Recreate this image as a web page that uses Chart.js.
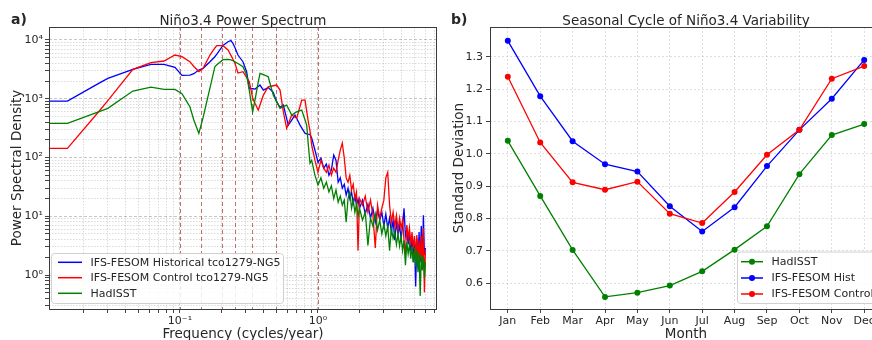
<!DOCTYPE html>
<html>
<head>
<meta charset="utf-8">
<script src="https://cdn.jsdelivr.net/npm/chart.js"></script>
<style>
  html, body { margin: 0; padding: 0; background: #fff; overflow: hidden; width: 872px; height: 340px; }
  #specChart { position: absolute; left: 0; top: 0; }
  #seasChart { position: absolute; left: 440px; top: 0; }
</style>
</head>
<body>
<canvas id="specChart" width="440" height="340"></canvas>
<canvas id="seasChart" width="460" height="340"></canvas>
<script>
// ---- panel a) power spectrum ----
const freq = [0.0114, 0.0153, 0.0254, 0.0300, 0.0456, 0.0616, 0.0766, 0.0920, 0.1034, 0.118, 0.126, 0.137, 0.147, 0.165, 0.179, 0.185, 0.205, 0.223, 0.234, 0.242, 0.250, 0.263, 0.286, 0.304, 0.318, 0.336, 0.350, 0.369, 0.380, 0.402, 0.436, 0.474, 0.502, 0.531, 0.561, 0.593, 0.609, 0.645, 0.681, 0.701, 0.741, 0.762, 0.806, 0.828, 0.851, 0.875,
  0.90, 0.95, 1.00, 1.05, 1.10, 1.15, 1.20, 1.25, 1.30, 1.35, 1.40, 1.45, 1.50, 1.55, 1.60, 1.65, 1.70, 1.75, 1.80, 1.85, 1.90, 1.95, 2.00,
  2.1, 2.2, 2.3, 2.4, 2.5, 2.6, 2.7, 2.8, 2.9, 3.0, 3.1, 3.2, 3.3, 3.4, 3.5, 3.6, 3.7, 3.8, 3.9, 4.0, 4.1, 4.2, 4.3, 4.4, 4.5, 4.6, 4.7, 4.8, 4.9, 5.0, 5.1, 5.2, 5.3, 5.4, 5.5, 5.6, 5.7, 5.8, 5.9, 6.0];

const psdHist = [913, 913, 1787, 2226, 3168, 3855, 3855, 3427, 2494, 2533, 2666, 3083, 3295, 4270, 5194, 5773, 8091, 9354, 9804, 8783, 7421, 5550, 4270, 2884, 1504, 1480, 1463, 1620, 1711, 1407, 1551, 1290, 885, 716, 781, 458, 356, 434, 528, 462, 356, 319, 257, 253, 249, 246,
  214, 134, 83, 98, 66, 77, 50, 61, 110, 90, 38, 45, 30, 35, 23, 30, 20, 26, 16.7, 22, 15.5, 19.6, 13.7,
  18.8, 10.9, 16.1, 9.3, 13.7, 7.9, 12.7, 8.6, 11.7, 6.8, 10.9, 6.3, 9.3, 5.4, 8.6, 3.9, 7.9, 5.0, 6.8, 4.2, 6.8, 13.7, 4.6, 5.8, 3.3, 5.4, 2.6, 4.6, 1.65, 3.9, 0.64, 4.2, 1.9, 5.4, 1.65, 6.8, 1.21, 10.4, 2.2, 2.9];

const psdCtrl = [143, 143, 577, 928, 3168, 4105, 4387, 5550, 5194, 4270, 3536, 2906, 3295, 5550, 7306, 7996, 7996, 6753, 5464, 4691, 4009, 2741, 2884, 2306, 1948, 1040, 832, 642, 781, 1156, 1601, 1665, 1711, 1407, 600, 313, 371, 528, 484, 464, 745, 950, 950, 617, 406, 283,
  163, 90, 56, 90, 66, 56, 74, 50, 66, 56, 90, 134, 176, 98, 45, 38, 50, 28, 35, 20, 26, 2.6, 20,
  15.5, 22, 11.7, 18.8, 10.4, 2.9, 15.5, 9.3, 13.7, 18.8, 45, 56, 15.5, 7.9, 11.7, 6.8, 10.4, 5.8, 9.3, 6.3, 8.6, 3.9, 2.2, 7.1, 4.2, 6.3, 3.2, 5.4, 2.9, 4.6, 2.2, 4.8, 1.65, 3.9, 1.9, 4.6, 1.31, 6.3, 0.51, 2.6];

const psdHad = [381, 381, 591, 686, 1352, 1582, 1446, 1446, 1221, 730, 434, 257, 476, 1527, 3509, 3795, 4618, 4691, 4598, 4439, 4270, 3977, 3509, 2533, 1373, 600, 965, 1925, 2709, 2564, 2370, 1156, 885, 686, 733, 781, 689, 528, 575, 600, 627, 642, 434, 356, 163, 80,
  90, 50, 34, 45, 30, 38, 26, 33, 20, 28, 17.4, 22, 15.5, 18.8, 7.9, 20, 26, 13.7, 18.8, 11.7, 16.1, 10.0, 13.7,
  8.6, 11.7, 3.2, 9.3, 6.8, 10.9, 5.8, 8.6, 5.0, 7.3, 4.6, 6.8, 2.6, 6.3, 4.2, 5.4, 3.3, 5.0, 3.1, 4.6, 2.6, 3.9, 1.47, 3.6, 2.3, 3.3, 1.9, 3.1, 1.65, 2.9, 1.41, 2.6, 1.12, 2.4, 0.44, 2.2, 1.21, 2.1, 0.88, 1.65];

// dashed markers at these periods (years)
const periodMarks = [10, 7, 5, 4, 3, 2, 1];

// ---- panel b) seasonal cycle ----
const months = ['Jan', 'Feb', 'Mar', 'Apr', 'May', 'Jun', 'Jul', 'Aug', 'Sep', 'Oct', 'Nov', 'Dec'];
const sdHad  = [1.040, 0.870, 0.703, 0.558, 0.571, 0.593, 0.637, 0.704, 0.776, 0.937, 1.058, 1.092];
const sdHist = [1.349, 1.178, 1.039, 0.968, 0.945, 0.838, 0.760, 0.835, 0.962, 1.074, 1.170, 1.290];
const sdCtrl = [1.238, 1.035, 0.912, 0.889, 0.914, 0.815, 0.786, 0.882, 0.997, 1.074, 1.232, 1.271];
const sdTicks = [0.6, 0.7, 0.8, 0.9, 1.0, 1.1, 1.2, 1.3];

const FONT = '"DejaVu Sans", sans-serif';
const TEXT = '#262626';
Chart.defaults.font.family = FONT;
Chart.defaults.color = TEXT;

const SUP = { '-': '⁻', '0': '⁰', '1': '¹', '2': '²', '3': '³', '4': '⁴', '5': '⁵', '6': '⁶', '7': '⁷', '8': '⁸', '9': '⁹' };
function sciLabel(v) {
  const e = Math.round(Math.log10(v));
  return '10' + String(e).split('').map(c => SUP[c]).join('');
}

// major (1x) and minor (2..9x) ticks of a log axis
function logTicks(lo, hi) {
  const out = [];
  for (let e = Math.floor(Math.log10(lo)); e <= Math.ceil(Math.log10(hi)); e++) {
    for (let m = 1; m <= 9; m++) {
      const v = m * Math.pow(10, e);
      if (v >= lo && v <= hi) out.push({ value: v, major: m === 1 });
    }
  }
  return out;
}

const periodLines = {
  id: 'periodLines',
  beforeDatasetsDraw(chart) {
    const { ctx, chartArea: a, scales: { x } } = chart;
    ctx.save();
    ctx.strokeStyle = 'rgba(180, 60, 60, 0.75)';
    ctx.lineWidth = 1;
    ctx.setLineDash([4, 3]);
    periodMarks.forEach(p => {
      const px = Math.round(x.getPixelForValue(1 / p)) + 0.5;
      ctx.beginPath();
      ctx.moveTo(px, a.top);
      ctx.lineTo(px, a.bottom);
      ctx.stroke();
    });
    ctx.restore();
  }
};

// frame, titles, axis labels and the in-axes legend
const panelDecor = {
  id: 'panelDecor',
  afterDraw(chart, args, opts) {
    const { ctx, chartArea: a } = chart;
    const cx = (a.left + a.right) / 2;
    ctx.save();
    ctx.strokeStyle = '#3a3a3a';
    ctx.lineWidth = 1;
    ctx.strokeRect(Math.round(a.left) + 0.5, Math.round(a.top) + 0.5, Math.round(a.right - a.left) - 1, Math.round(a.bottom - a.top));

    ctx.fillStyle = TEXT;
    ctx.textBaseline = 'alphabetic';
    ctx.font = 'bold 14px ' + FONT;
    ctx.textAlign = 'left';
    ctx.fillText(opts.letter, 11, 24);

    ctx.font = '13.5px ' + FONT;
    ctx.textAlign = 'center';
    ctx.fillText(opts.title, cx, 24.5);
    ctx.fillText(opts.xTitle, cx, 338);
    ctx.save();
    ctx.translate(opts.yTitleX, (a.top + a.bottom) / 2);
    ctx.rotate(-Math.PI / 2);
    ctx.fillText(opts.yTitle, 0, 0);
    ctx.restore();

    const lg = opts.legend;
    ctx.fillStyle = 'rgba(255, 255, 255, 0.85)';
    ctx.strokeStyle = '#d0d0d0';
    ctx.beginPath();
    ctx.roundRect(lg.box[0] + 0.5, lg.box[1] + 0.5, lg.box[2], lg.box[3], 3);
    ctx.fill();
    ctx.stroke();
    ctx.font = '11px ' + FONT;
    ctx.textAlign = 'left';
    ctx.textBaseline = 'middle';
    chart.data.datasets.forEach((ds, i) => {
      const y = lg.rows[i];
      ctx.strokeStyle = ds.borderColor;
      ctx.lineWidth = 1.5;
      ctx.beginPath();
      ctx.moveTo(lg.x0, y);
      ctx.lineTo(lg.x1, y);
      ctx.stroke();
      if (lg.marker) {
        ctx.fillStyle = ds.borderColor;
        ctx.beginPath();
        ctx.arc((lg.x0 + lg.x1) / 2, y, 3, 0, Math.PI * 2);
        ctx.fill();
      }
      ctx.fillStyle = TEXT;
      ctx.fillText(ds.label, lg.tx, y + 0.5);
    });
    ctx.restore();
  }
};

const gridColor = c => (c.tick && c.tick.major) ? 'rgba(0,0,0,0.22)' : 'rgba(0,0,0,0.14)';
const gridDash = c => (c.tick && c.tick.major) ? [3, 2] : [1.5, 1.5];

new Chart(document.getElementById('specChart'), {
  type: 'line',
  data: {
    datasets: [
      { label: 'IFS-FESOM Historical tco1279-NG5', data: freq.map((f, i) => ({ x: f, y: psdHist[i] })), borderColor: 'blue', order: 2 },
      { label: 'IFS-FESOM Control tco1279-NG5', data: freq.map((f, i) => ({ x: f, y: psdCtrl[i] })), borderColor: 'red', order: 1 },
      { label: 'HadISST', data: freq.map((f, i) => ({ x: f, y: psdHad[i] })), borderColor: 'green', order: 0 }
    ]
  },
  options: {
    responsive: false,
    animation: false,
    devicePixelRatio: 1,
    layout: { padding: { top: 27, right: 3, left: 0, bottom: 0 } },
    elements: { point: { radius: 0 }, line: { borderWidth: 1.3, tension: 0 } },
    plugins: {
      legend: { display: false },
      tooltip: { enabled: false },
      panelDecor: {
        letter: 'a)',
        title: 'Niño3.4 Power Spectrum',
        xTitle: 'Frequency (cycles/year)',
        yTitle: 'Power Spectral Density',
        yTitleX: 21,
        legend: { box: [51, 253, 232, 50], rows: [262.3, 277.7, 293.3], x0: 58, x1: 82, tx: 90.5, marker: false }
      }
    },
    scales: {
      x: {
        type: 'logarithmic',
        min: 0.01125,
        max: 7.28,
        afterBuildTicks: s => { s.ticks = logTicks(s.min, s.max); },
        afterFit: s => { s.height = 31; },
        ticks: { autoSkip: false, maxRotation: 0, padding: 2, font: { size: 11 }, callback: (v, i, t) => t[i].major ? sciLabel(v) : '' },
        grid: { color: gridColor, tickColor: '#444', tickLength: 4 },
        border: { display: false, dash: gridDash }
      },
      y: {
        type: 'logarithmic',
        min: 0.264,
        max: 16640,
        afterBuildTicks: s => { s.ticks = logTicks(s.min, s.max); },
        afterFit: s => { s.width = 49; },
        ticks: { autoSkip: false, padding: 2, font: { size: 11 }, callback: (v, i, t) => t[i].major ? sciLabel(v) : '' },
        grid: { color: gridColor, tickColor: '#444', tickLength: 4 },
        border: { display: false, dash: gridDash }
      }
    }
  },
  plugins: [periodLines, panelDecor]
});

new Chart(document.getElementById('seasChart'), {
  type: 'line',
  data: {
    datasets: [
      { label: 'HadISST', data: sdHad.map((v, i) => ({ x: i, y: v })), borderColor: 'green', backgroundColor: 'green', order: 2 },
      { label: 'IFS-FESOM Hist', data: sdHist.map((v, i) => ({ x: i, y: v })), borderColor: 'blue', backgroundColor: 'blue', order: 1 },
      { label: 'IFS-FESOM Control', data: sdCtrl.map((v, i) => ({ x: i, y: v })), borderColor: 'red', backgroundColor: 'red', order: 0 }
    ]
  },
  options: {
    responsive: false,
    animation: false,
    devicePixelRatio: 1,
    layout: { padding: { top: 27, right: 18, left: 0, bottom: 0 } },
    elements: { point: { radius: 3, borderWidth: 0 }, line: { borderWidth: 1.3, tension: 0 } },
    plugins: {
      legend: { display: false },
      tooltip: { enabled: false },
      panelDecor: {
        letter: 'b)',
        title: 'Seasonal Cycle of Niño3.4 Variability',
        xTitle: 'Month',
        yTitle: 'Standard Deviation',
        yTitleX: 22.5,
        legend: { box: [297, 251.5, 150, 51.5], rows: [261.7, 278, 294], x0: 301, x1: 323, tx: 331.5, marker: true }
      }
    },
    scales: {
      x: {
        type: 'linear',
        min: -0.55,
        max: months.length - 1 + 0.55,
        afterBuildTicks: s => { s.ticks = months.map((m, i) => ({ value: i })); },
        afterFit: s => { s.height = 31; },
        ticks: { autoSkip: false, maxRotation: 0, padding: 2, font: { size: 11 }, callback: v => months[v] },
        grid: { color: 'rgba(0,0,0,0.13)', tickColor: '#444', tickLength: 4 },
        border: { display: false, dash: [2, 2] }
      },
      y: {
        min: 0.5206,
        max: 1.3917,
        afterBuildTicks: s => { s.ticks = sdTicks.map(v => ({ value: v })); },
        afterFit: s => { s.width = 50; },
        ticks: { padding: 3, font: { size: 11 }, callback: v => v.toFixed(1) },
        grid: { color: 'rgba(0,0,0,0.13)', tickColor: '#444', tickLength: 4 },
        border: { display: false, dash: [2, 2] }
      }
    }
  },
  plugins: [panelDecor]
});
</script>
</body>
</html>
